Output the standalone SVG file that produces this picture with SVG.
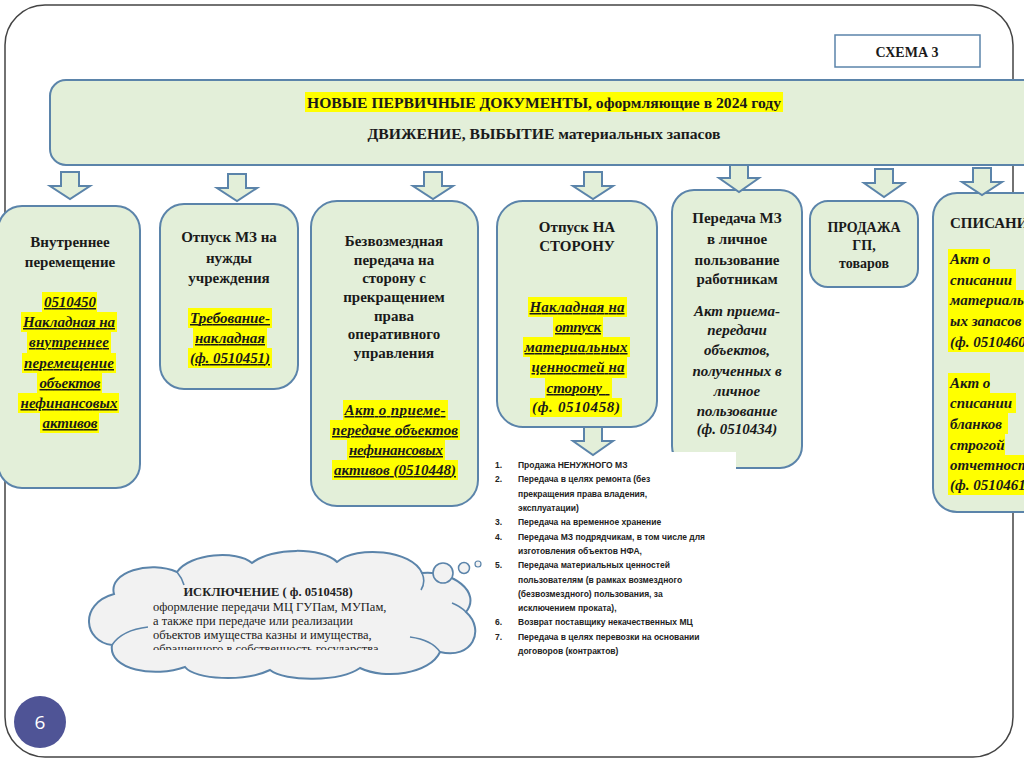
<svg xmlns="http://www.w3.org/2000/svg" width="1024" height="767" viewBox="0 0 1024 767">
<style>
.box{fill:#e3efd9;stroke:#5b84aa;stroke-width:2}
.arr{fill:#e3efd9;stroke:#5b84aa;stroke-width:2;stroke-linejoin:miter}
.h{font-family:"Liberation Serif",serif;font-weight:bold;font-size:15px;fill:#1a1a1a;text-anchor:middle}
.i{font-family:"Liberation Serif",serif;font-weight:bold;font-style:italic;font-size:15px;fill:#1a1a1a;text-anchor:middle}
.u{text-decoration:underline}
.l{text-anchor:start}
.hl{fill:#ffff00}
.li{font-family:"Liberation Sans",sans-serif;font-weight:bold;font-size:8.5px;fill:#222}
.c{font-family:"Liberation Serif",serif;font-size:12.5px;fill:#222}
</style>
<defs>
<clipPath id="cloudclip"><rect x="100" y="560" width="380" height="90"/></clipPath>
</defs>
<rect x="0" y="0" width="1024" height="767" fill="#ffffff"/>
<rect x="5" y="5" width="1008" height="752" rx="40" fill="none" stroke="#444" stroke-width="1.5"/>

<g id="schema-label">
<rect x="835" y="35" width="145" height="32" fill="#fff" stroke="#5b84aa" stroke-width="1.5"/>
<text x="907" y="57" class="h" style="font-size:14px">СХЕМА 3</text>
</g>

<g id="header">
<rect x="50" y="80" width="1000" height="85" rx="16" class="box"/>
<rect x="305" y="92" width="478" height="20" class="hl"/>
<text x="544" y="108" class="h" textLength="474" lengthAdjust="spacingAndGlyphs">НОВЫЕ ПЕРВИЧНЫЕ ДОКУМЕНТЫ, оформляющие в 2024 году</text>
<text x="544" y="139" class="h" textLength="353" lengthAdjust="spacingAndGlyphs">ДВИЖЕНИЕ, ВЫБЫТИЕ материальных запасов</text>
</g>

<g id="box1">
<rect x="-2" y="206" width="142" height="282" rx="24" class="box"/>
<text x="70" y="247" class="h">Внутреннее</text>
<text x="70" y="267" class="h">перемещение</text>
<rect x="42" y="292" width="55" height="20" class="hl"/>
<rect x="21" y="312" width="96" height="20" class="hl"/>
<rect x="27" y="332" width="84" height="21" class="hl"/>
<rect x="22" y="353" width="94" height="20" class="hl"/>
<rect x="37" y="373" width="65" height="20" class="hl"/>
<rect x="18" y="393" width="101" height="20" class="hl"/>
<rect x="40" y="413" width="59" height="20" class="hl"/>
<text x="70" y="307" class="i u" textLength="52">0510450</text>
<text x="69" y="327" class="i u" textLength="92">Накладная на</text>
<text x="69" y="347" class="i u" textLength="80">внутреннее</text>
<text x="69" y="368" class="i u" textLength="90">перемещение</text>
<text x="70" y="388" class="i u" textLength="61">объектов</text>
<text x="69" y="408" class="i u" textLength="97">нефинансовых</text>
<text x="70" y="428" class="i u" textLength="55">активов</text>
</g>

<g id="box2">
<rect x="160" y="204" width="138" height="185" rx="24" class="box"/>
<text x="229" y="242" class="h">Отпуск МЗ на</text>
<text x="229" y="263" class="h">нужды</text>
<text x="229" y="283" class="h">учреждения</text>
<rect x="188" y="308" width="84" height="20" class="hl"/>
<rect x="193" y="328" width="74" height="20" class="hl"/>
<rect x="188" y="348" width="84" height="20" class="hl"/>
<text x="230" y="323" class="i u" textLength="80">Требование-</text>
<text x="230" y="343" class="i u" textLength="70">накладная</text>
<text x="230" y="363" class="i u" textLength="80">(ф. 0510451)</text>
</g>

<g id="box3">
<rect x="311" y="201" width="167" height="305" rx="26" class="box"/>
<text x="394" y="246" class="h">Безвозмездная</text>
<text x="394" y="265" class="h">передача на</text>
<text x="394" y="283" class="h">сторону с</text>
<text x="394" y="302" class="h">прекращением</text>
<text x="394" y="321" class="h">права</text>
<text x="394" y="339" class="h">оперативного</text>
<text x="394" y="358" class="h">управления</text>
<rect x="343" y="400" width="105" height="20" class="hl"/>
<rect x="330" y="420" width="130" height="20" class="hl"/>
<rect x="347" y="440" width="98" height="20" class="hl"/>
<rect x="332" y="460" width="126" height="20" class="hl"/>
<text x="395" y="415" class="i u" textLength="101">Акт о приеме-</text>
<text x="395" y="435" class="i u" textLength="126">передаче объектов</text>
<text x="396" y="455" class="i u" textLength="94">нефинансовых</text>
<text x="395" y="475" class="i u" textLength="122">активов (0510448)</text>
</g>

<g id="box4">
<rect x="497" y="201" width="160" height="226" rx="26" class="box"/>
<text x="577" y="232" class="h">Отпуск НА</text>
<text x="577" y="251" class="h">СТОРОНУ</text>
<rect x="528" y="297" width="99" height="20" class="hl"/>
<rect x="553" y="317" width="50" height="20" class="hl"/>
<rect x="523" y="337" width="107" height="20" class="hl"/>
<rect x="530" y="357" width="97" height="21" class="hl"/>
<rect x="545" y="378" width="67" height="20" class="hl"/>
<rect x="530" y="398" width="92" height="19" class="hl"/>
<text x="577" y="312" class="i u" textLength="95">Накладная на</text>
<text x="578" y="332" class="i u" textLength="46">отпуск</text>
<text x="576" y="352" class="i u" textLength="103">материальных</text>
<text x="578" y="372" class="i u" textLength="93">ценностей на</text>
<text x="578" y="393" class="i u" textLength="63" xml:space="preserve">сторону  </text>
<text x="576" y="412" class="i" textLength="88">(ф. 0510458)</text>
</g>

<g id="box5">
<rect x="672" y="190" width="130" height="278" rx="22" class="box"/>
<rect x="670" y="452" width="66" height="20" fill="#ffffff"/>
<text x="737" y="223" class="h">Передача МЗ</text>
<text x="737" y="244" class="h">в личное</text>
<text x="737" y="265" class="h">пользование</text>
<text x="737" y="284" class="h">работникам</text>
<text x="737" y="316" class="i">Акт приема-</text>
<text x="737" y="335" class="i">передачи</text>
<text x="737" y="355" class="i">объектов,</text>
<text x="737" y="376" class="i">полученных в</text>
<text x="737" y="396" class="i">личное</text>
<text x="737" y="416" class="i">пользование</text>
<text x="737" y="434" class="i">(ф. 0510434)</text>
</g>

<g id="box6">
<rect x="810" y="201" width="108" height="86" rx="18" class="box"/>
<text x="864" y="232" class="h" style="font-size:14px">ПРОДАЖА</text>
<text x="864" y="250" class="h" style="font-size:14px">ГП,</text>
<text x="864" y="268" class="h" style="font-size:14px">товаров</text>
</g>

<g id="box7">
<rect x="933" y="193" width="130" height="319" rx="24" class="box"/>
<text x="950" y="228" class="h l">СПИСАНИЕ</text>
<rect x="948" y="249" width="42" height="20" class="hl"/>
<rect x="948" y="269" width="68" height="21" class="hl"/>
<rect x="948" y="290" width="80" height="20" class="hl"/>
<rect x="948" y="310" width="80" height="21" class="hl"/>
<rect x="948" y="331" width="80" height="21" class="hl"/>
<rect x="948" y="373" width="42" height="20" class="hl"/>
<rect x="948" y="393" width="68" height="20" class="hl"/>
<rect x="948" y="413" width="60" height="21" class="hl"/>
<rect x="948" y="434" width="57" height="21" class="hl"/>
<rect x="948" y="455" width="80" height="20" class="hl"/>
<rect x="948" y="475" width="80" height="20" class="hl"/>
<text x="950" y="264" class="i l">Акт о</text>
<text x="950" y="285" class="i l">списании</text>
<text x="950" y="305" class="i l">материальн</text>
<text x="950" y="326" class="i l">ых запасов</text>
<text x="950" y="347" class="i l">(ф. 0510460)</text>
<text x="950" y="388" class="i l">Акт о</text>
<text x="950" y="408" class="i l">списании</text>
<text x="950" y="429" class="i l">бланков</text>
<text x="950" y="450" class="i l">строгой</text>
<text x="950" y="470" class="i l">отчетности</text>
<text x="950" y="490" class="i l">(ф. 0510461)</text>
</g>

<g id="connectors">
<path class="arr" d="M61,172 H79 V186 H90 L70,199 L50,186 H61 Z"/>
<path class="arr" d="M228,174 H246 V188 H257 L237,201 L217,188 H228 Z"/>
<path class="arr" d="M424,172 H442 V186 H453 L433,199 L413,186 H424 Z"/>
<path class="arr" d="M584,172 H602 V186 H613 L593,199 L573,186 H584 Z"/>
<path class="arr" d="M730,165 H748 V178 H759 L739,192 L719,178 H730 Z"/>
<path class="arr" d="M875,169 H893 V183 H904 L884,197 L864,183 H875 Z"/>
<path class="arr" d="M973,168 H991 V182 H1002 L982,195 L962,182 H973 Z"/>
<path class="arr" d="M584,427 H602 V441 H613 L593,455 L573,441 H584 Z"/>
</g>

<g id="list">
<text class="li" x="495" y="468">1.</text><text class="li" x="518" y="468">Продажа НЕНУЖНОГО МЗ</text>
<text class="li" x="495" y="482">2.</text><text class="li" x="518" y="482">Передача в целях ремонта (без</text>
<text class="li" x="518" y="497">прекращения права владения,</text>
<text class="li" x="518" y="511">эксплуатации)</text>
<text class="li" x="495" y="525">3.</text><text class="li" x="518" y="525">Передача на временное хранение</text>
<text class="li" x="495" y="540">4.</text><text class="li" x="518" y="540">Передача МЗ подрядчикам, в том числе для</text>
<text class="li" x="518" y="554">изготовления объектов НФА,</text>
<text class="li" x="495" y="568">5.</text><text class="li" x="518" y="568">Передача материальных ценностей</text>
<text class="li" x="518" y="583">пользователям (в рамках возмездного</text>
<text class="li" x="518" y="597">(безвозмездного) пользования, за</text>
<text class="li" x="518" y="611">исключением проката),</text>
<text class="li" x="495" y="625">6.</text><text class="li" x="518" y="625">Возврат поставщику некачественных МЦ</text>
<text class="li" x="495" y="640">7.</text><text class="li" x="518" y="640">Передача в целях перевозки на основании</text>
<text class="li" x="518" y="654">договоров (контрактов)</text>
</g>

<g id="cloud">
<path d="M112,645 C84,642 78,604 114,594 C108,572 150,560 177,572 C190,553 237,550 252,563 C272,547 322,547 337,562 C357,545 412,550 422,573 C452,570 482,592 466,612 C486,630 472,660 440,652 C430,674 385,680 360,668 C340,682 285,682 270,670 C245,682 195,680 185,667 C155,678 108,670 112,645 Z" fill="#f2f2f2" stroke="#5b84aa" stroke-width="2"/>
<path d="M112,645 Q122,630 148,627 M440,652 Q432,640 410,637 M422,573 Q426,582 421,590 M177,572 Q182,578 184,585 M466,612 Q460,606 452,603" fill="none" stroke="#5b84aa" stroke-width="1.6"/>
<circle cx="443" cy="573" r="10" fill="#f2f2f2" stroke="#5b84aa" stroke-width="1.6"/>
<circle cx="464" cy="568" r="5.5" fill="#f2f2f2" stroke="#5b84aa" stroke-width="1.5"/>
<circle cx="478" cy="564" r="3" fill="#f2f2f2" stroke="#5b84aa" stroke-width="1.2"/>
<text x="268" y="596" class="c" style="font-weight:bold;text-anchor:middle">ИСКЛЮЧЕНИЕ ( ф. 0510458)</text>
<g clip-path="url(#cloudclip)">
<text x="153" y="611" class="c">оформление передачи МЦ ГУПам, МУПам,</text>
<text x="153" y="625" class="c">а также при передаче или реализации</text>
<text x="153" y="639" class="c">объектов имущества казны и имущества,</text>
<text x="153" y="653" class="c">обращенного в собственность государства</text>
</g>
</g>

<g id="page-number">
<circle cx="40" cy="722" r="26" fill="#4f5496"/>
<text x="40" y="729" style="font-family:'Open Sans','Liberation Sans',sans-serif;font-size:19px;fill:#fff;text-anchor:middle">6</text>
</g>
</svg>
